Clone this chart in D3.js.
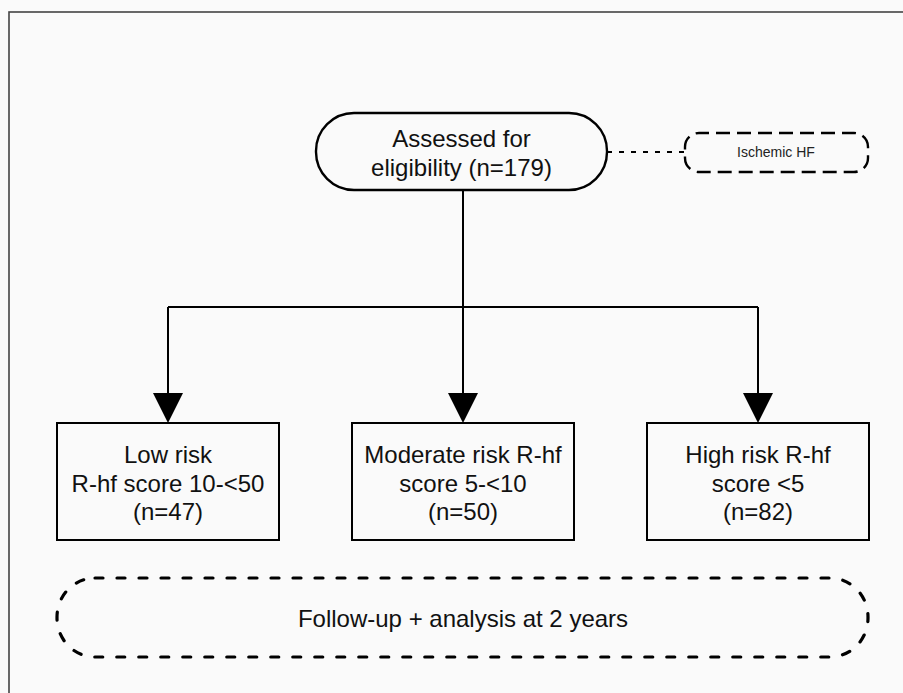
<!DOCTYPE html>
<html><head><meta charset="utf-8">
<script src="https://cdn.jsdelivr.net/npm/d3@7"></script>
<style>html,body{margin:0;padding:0;background:#fafafa;}svg{display:block;}</style>
</head><body>
<script>
// ---- data ----
const rootLines = ["Assessed for", "eligibility (n=179)"];
const sideLabel = "Ischemic HF";
const categories = ["Low", "Moderate", "High"];
const groupLines = [
  ["Low risk", "R-hf score 10-<50"],
  ["Moderate risk R-hf", "score 5-<10"],
  ["High risk R-hf", "score <5"]
];
const counts = [47, 50, 82];
const footerLabel = "Follow-up + analysis at 2 years";

// ---- drawing ----
const W = 903, H = 693;
const svg = d3.select("body").append("svg").attr("width", W).attr("height", H);
const font = "'Liberation Sans', Arial, sans-serif";

svg.append("rect").attr("width", W).attr("height", H).attr("fill", "#fafafa");
// outer frame
svg.append("rect").attr("x", 9).attr("y", 12).attr("width", 920).attr("height", 720)
  .attr("fill", "none").attr("stroke", "#444").attr("stroke-width", 1.6);

const x = d3.scalePoint().domain(categories).range([168, 758]);
const rootX = x("Moderate");
const boxW = 222, boxTop = 423, boxBot = 540;
const branchY = 307, arrowH = 30, arrowHalf = 15;

// root pill
svg.append("rect").attr("x", 316).attr("y", 113).attr("width", 291).attr("height", 77)
  .attr("rx", 38).attr("ry", 38).attr("fill", "none").attr("stroke", "#000").attr("stroke-width", 2.4);
svg.selectAll("text.root").data(rootLines).join("text").attr("class", "root")
  .attr("x", 461.5).attr("y", (d, i) => 147 + i * 29).attr("text-anchor", "middle")
  .attr("font-family", font).attr("font-size", 24).attr("fill", "#111").text(d => d);

// side dashed connector and box
svg.append("line").attr("x1", 607).attr("x2", 684).attr("y1", 152).attr("y2", 152)
  .attr("stroke", "#000").attr("stroke-width", 2).attr("stroke-dasharray", "5,7");
svg.append("rect").attr("x", 685).attr("y", 133).attr("width", 183).attr("height", 39)
  .attr("rx", 14).attr("ry", 14).attr("fill", "none").attr("stroke", "#000")
  .attr("stroke-width", 2.4).attr("stroke-dasharray", "14,7").attr("stroke-dashoffset", 4);
svg.append("text").attr("x", 776).attr("y", 157).attr("text-anchor", "middle")
  .attr("font-family", font).attr("font-size", 14).attr("fill", "#222").text(sideLabel);

// tree lines
const lineG = svg.append("g").attr("stroke", "#000").attr("stroke-width", 2).attr("fill", "none");
lineG.append("line").attr("x1", rootX).attr("x2", rootX).attr("y1", 190).attr("y2", branchY);
lineG.append("line").attr("x1", x(categories[0])).attr("x2", x(categories[categories.length - 1]))
  .attr("y1", branchY).attr("y2", branchY);
lineG.selectAll("line.drop").data(categories).join("line").attr("class", "drop")
  .attr("x1", d => x(d)).attr("x2", d => x(d)).attr("y1", branchY).attr("y2", boxTop - arrowH + 1);
svg.selectAll("path.arrow").data(categories).join("path").attr("class", "arrow")
  .attr("d", d => `M${x(d) - arrowHalf},${boxTop - arrowH} L${x(d) + arrowHalf},${boxTop - arrowH} L${x(d)},${boxTop} Z`)
  .attr("fill", "#000");

// group boxes
const g = svg.selectAll("g.grp").data(categories).join("g").attr("class", "grp");
g.append("rect").attr("x", d => x(d) - boxW / 2).attr("y", boxTop).attr("width", boxW)
  .attr("height", boxBot - boxTop).attr("fill", "none").attr("stroke", "#000").attr("stroke-width", 2);
g.each(function (d, i) {
  const lines = groupLines[i].concat([`(n=${counts[i]})`]);
  d3.select(this).selectAll("text").data(lines).join("text")
    .attr("x", x(d)).attr("y", (t, j) => 463 + j * 28.5).attr("text-anchor", "middle")
    .attr("font-family", font).attr("font-size", 24).attr("fill", "#111").text(t => t);
});

// footer dashed pill
svg.append("rect").attr("x", 57).attr("y", 578).attr("width", 811).attr("height", 79)
  .attr("rx", 38).attr("ry", 39).attr("fill", "none").attr("stroke", "#000")
  .attr("stroke-width", 3.2).attr("stroke-dasharray", "8,14").attr("stroke-linecap", "round");
svg.append("text").attr("x", 463).attr("y", 627).attr("text-anchor", "middle")
  .attr("font-family", font).attr("font-size", 24).attr("fill", "#111").text(footerLabel);
</script>
</body></html>
